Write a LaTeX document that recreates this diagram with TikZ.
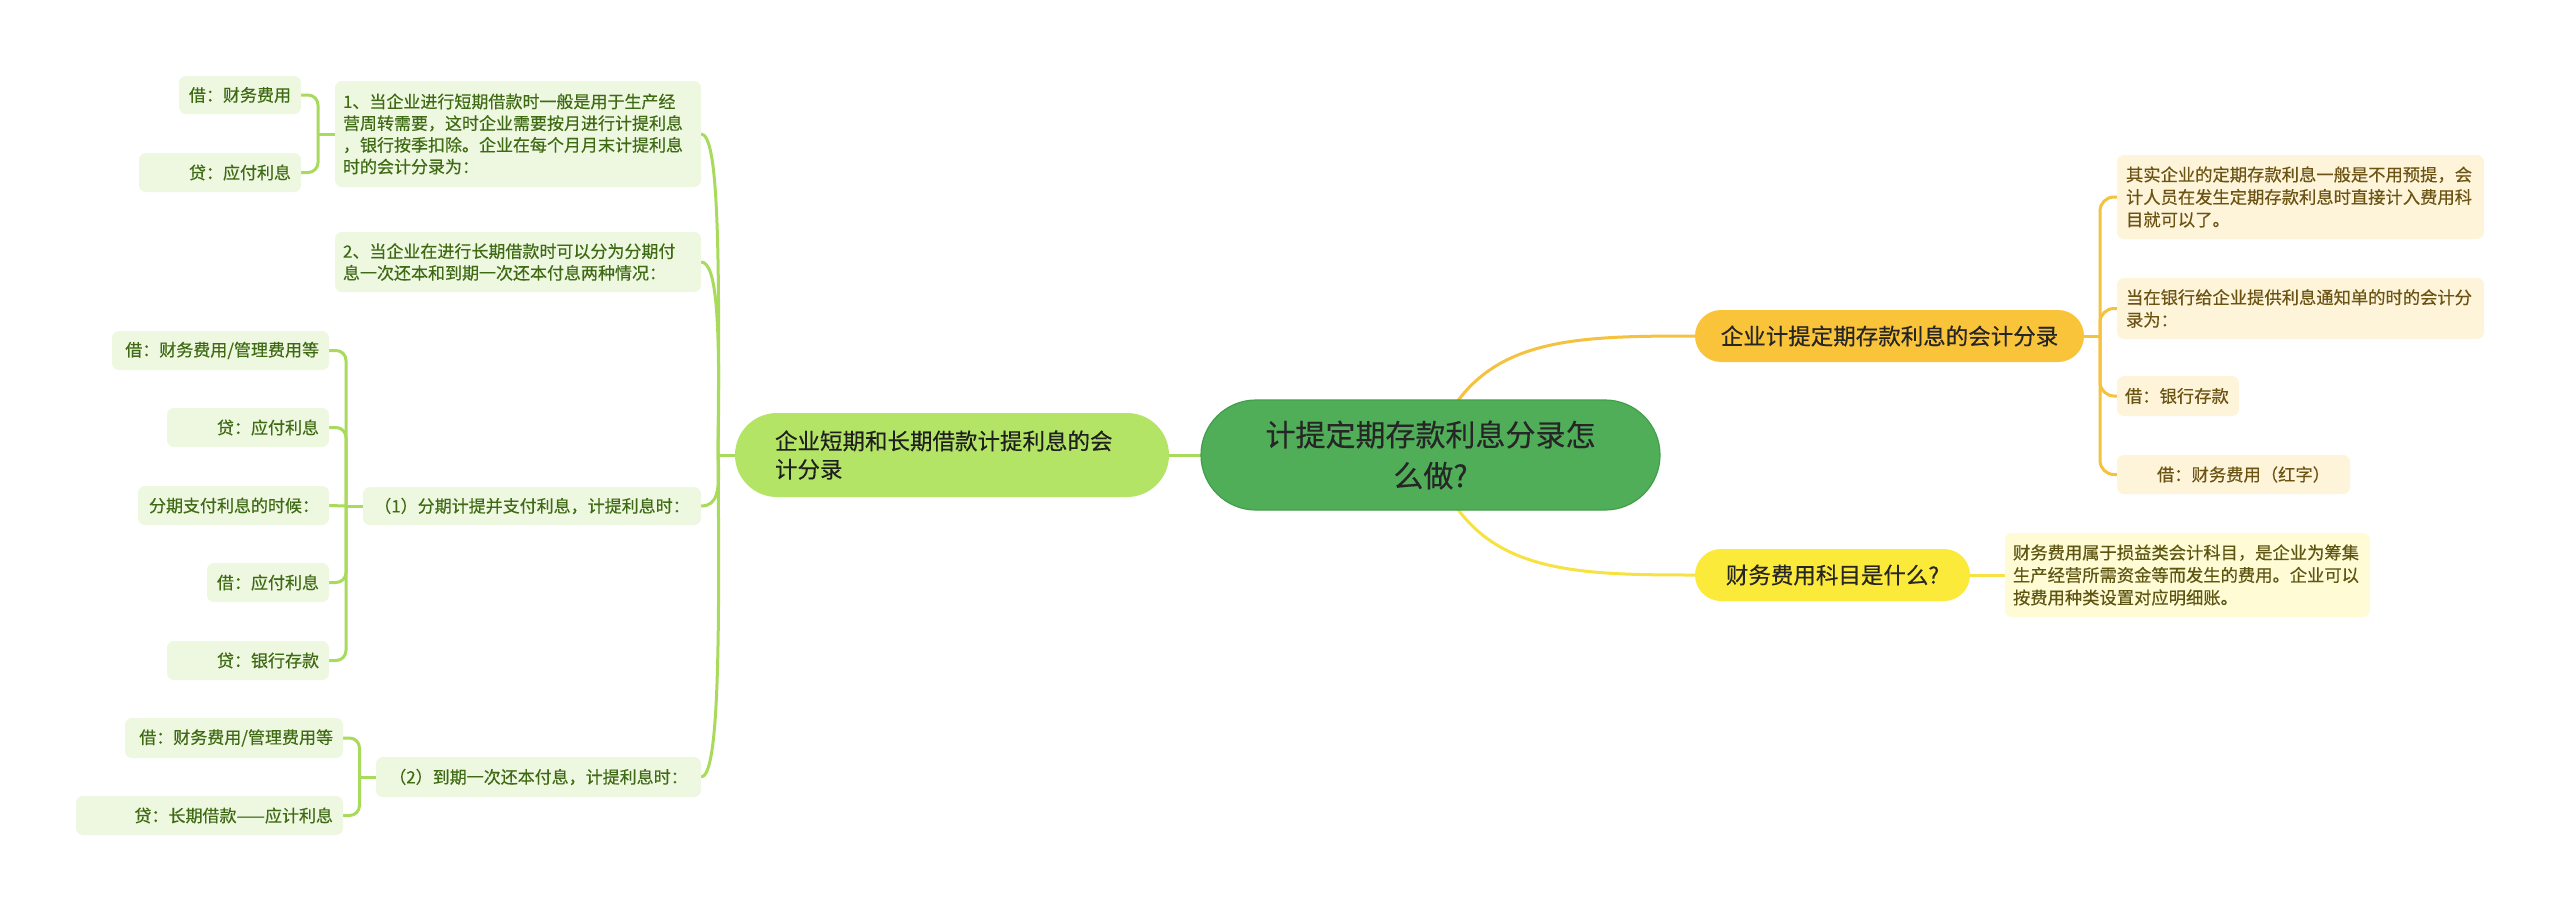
\documentclass[tikz,border=0pt]{standalone}
\usepackage{fontspec}
\setmainfont{Noto Sans CJK SC}[FakeBold=0.35]
\usetikzlibrary{backgrounds}
\definecolor{rootfill}{HTML}{50AE59}
\definecolor{rootdraw}{HTML}{419F4A}
\definecolor{roottext}{HTML}{262626}
\definecolor{lmfill}{HTML}{B4E465}
\definecolor{lmline}{HTML}{A8DB5C}
\definecolor{lcfill}{HTML}{EEF8E0}
\definecolor{lctext}{HTML}{3F6A14}
\definecolor{ronefill}{HTML}{F9C33A}
\definecolor{roneline}{HTML}{F4C23F}
\definecolor{rcfill}{HTML}{FEF4D9}
\definecolor{rctext}{HTML}{6B5313}
\definecolor{rtwofill}{HTML}{FCEA3B}
\definecolor{rtwoline}{HTML}{F6E240}
\definecolor{rtcfill}{HTML}{FFFBD4}
\definecolor{rtctext}{HTML}{5E5512}
\tikzset{
  box/.style={inner ysep=0pt, outer sep=0pt, rounded corners=7pt},
  lc/.style={box, fill=lcfill, text=lctext, font=\fontsize{17}{21.7}\selectfont},
  rc/.style={box, fill=rcfill, text=rctext, font=\fontsize{17.3}{22.5}\selectfont},
  rtc/.style={box, fill=rtcfill, text=rtctext, font=\fontsize{17.3}{22.5}\selectfont},
  mainnode/.style={inner ysep=0pt, outer sep=0pt, font=\fontsize{22.5}{28.3}\selectfont},
  lconn/.style={draw=lmline, line width=3pt, rounded corners=10pt},
  ronec/.style={draw=roneline, line width=3pt, rounded corners=14pt},
  rtwoc/.style={draw=rtwoline, line width=3pt},
}
\begin{document}
\begin{tikzpicture}[x=1pt,y=-1pt]
\useasboundingbox (0,0) rectangle (2560,911);

% central
\node[inner ysep=0pt, outer sep=0pt, fill=rootfill, draw=rootdraw, line width=1.2pt, rounded corners=55pt,
      minimum width=459pt, minimum height=110pt, text width=380pt, align=center, text=roottext,
      font=\fontsize{30}{41}\selectfont] (root) at (1430.5,455) {计提定期存款利息分录怎\\么做?};

% main branches
\node[mainnode, fill=lmfill, rounded corners=42pt, minimum width=434pt, minimum height=84pt,
      inner xsep=40pt, text width=354pt, align=left, text=black!88] (lm) at (952,455)
      {企业短期和长期借款计提利息的会\\计分录};
\node[mainnode, fill=ronefill, rounded corners=26pt, minimum width=389pt, minimum height=52pt,
      align=center, text=black!85] (r1) at (1889.5,336) {企业计提定期存款利息的会计分录};
\node[mainnode, fill=rtwofill, rounded corners=26pt, minimum width=275pt, minimum height=52pt,
      align=center, text=black!85] (r2) at (1832.5,575) {财务费用科目是什么?};

% right children
\node[rc, minimum width=367pt, minimum height=84pt, inner xsep=9pt, text width=349pt, align=left]
  (rc1) at (2300.5,197) {其实企业的定期存款利息一般是不用预提，会\\计人员在发生定期存款利息时直接计入费用科\\目就可以了。};
\node[rc, minimum width=367pt, minimum height=61pt, inner xsep=9pt, text width=349pt, align=left]
  (rc2) at (2300.5,308.5) {当在银行给企业提供利息通知单的时的会计分\\录为：};
\node[rc, minimum width=122pt, minimum height=40pt, inner xsep=8pt, text width=106pt, align=left]
  (rc3) at (2178,396) {借：银行存款};
\node[rc, minimum width=233pt, minimum height=39pt, inner xsep=20pt, text width=193pt, align=right]
  (rc4) at (2233.5,474.5) {借：财务费用（红字）};
\node[rtc, minimum width=365pt, minimum height=84pt, inner xsep=8pt, text width=349pt, align=left]
  (r2c) at (2187.5,575) {财务费用属于损益类会计科目，是企业为筹集\\生产经营所需资金等而发生的费用。企业可以\\按费用种类设置对应明细账。};

% left level 2
\node[lc, minimum width=366pt, minimum height=106pt, inner xsep=8pt, text width=350pt, align=left]
  (l1) at (518,134) {1、当企业进行短期借款时一般是用于生产经\\营周转需要，这时企业需要按月进行计提利息\\，银行按季扣除。企业在每个月月末计提利息\\时的会计分录为：};
\node[lc, minimum width=366pt, minimum height=60pt, inner xsep=8pt, text width=350pt, align=left]
  (l2) at (518,262) {2、当企业在进行长期借款时可以分为分期付\\息一次还本和到期一次还本付息两种情况：};
\node[lc, minimum width=338pt, minimum height=38pt, inner xsep=10pt, text width=318pt, align=center]
  (p1) at (532,506) {（1）分期计提并支付利息，计提利息时：};
\node[lc, minimum width=325pt, minimum height=40pt, inner xsep=10pt, text width=305pt, align=center]
  (p2) at (538.5,777) {（2）到期一次还本付息，计提利息时：};

% left level 3
\node[lc, minimum width=122pt, minimum height=38pt, inner xsep=10pt, text width=102pt, align=right]
  (L1a) at (240,95) {借：财务费用};
\node[lc, minimum width=162pt, minimum height=39pt, inner xsep=10pt, text width=142pt, align=right]
  (L1b) at (220,172.5) {贷：应付利息};
\node[lc, minimum width=217pt, minimum height=39pt, inner xsep=10pt, text width=197pt, align=right]
  (P1a) at (220.5,350.5) {借：财务费用/管理费用等};
\node[lc, minimum width=162pt, minimum height=39pt, inner xsep=10pt, text width=142pt, align=right]
  (P1b) at (248,427.5) {贷：应付利息};
\node[lc, minimum width=191pt, minimum height=39pt, inner xsep=10pt, text width=171pt, align=right]
  (P1c) at (233.5,505.5) {分期支付利息的时候：};
\node[lc, minimum width=122pt, minimum height=39pt, inner xsep=10pt, text width=102pt, align=right]
  (P1d) at (268,582.5) {借：应付利息};
\node[lc, minimum width=162pt, minimum height=39pt, inner xsep=10pt, text width=142pt, align=right]
  (P1e) at (248,660.5) {贷：银行存款};
\node[lc, minimum width=218pt, minimum height=40pt, inner xsep=10pt, text width=198pt, align=right]
  (P2a) at (234,738) {借：财务费用/管理费用等};
\node[lc, minimum width=267pt, minimum height=39pt, inner xsep=10pt, text width=247pt, align=right]
  (P2b) at (209.5,815.5) {贷：长期借款——应计利息};

\coordinate (lsp) at (718,455);
\coordinate (rsp) at (2100,336);
\coordinate (s1) at (318,134);
\coordinate (sp1) at (346,506);
\coordinate (sp2) at (359.5,777);

\begin{scope}[on background layer]
  \fill[white] (0,0) rectangle (2560,911);
  % root to branches
  \draw[lconn] (lm.east) -- (root.west);
  \draw[ronec] (root.center) .. controls (1470,338) and (1560,336) .. (r1.west);
  \draw[rtwoc] (root.center) .. controls (1470,572) and (1560,575) .. (r2.west);
  % right 1 spine
  \draw[ronec] (r1.east) -- (rsp);
  \draw[ronec] (rsp) -- (2100,197) -- (rc1.west);
  \draw[ronec] (rsp) -- (2100,308.5) -- (rc2.west);
  \draw[ronec] (rsp) -- (2100,396) -- (rc3.west);
  \draw[ronec] (rsp) -- (2100,474.5) -- (rc4.west);
  % right 2
  \draw[rtwoc] (r2.east) -- (r2c.west);
  % left main spine
  \draw[lconn] (lm.west) -- (lsp);
  \draw[lconn] (lsp) .. controls (720,240) and (718,134) .. (l1.east);
  \draw[lconn] (lsp) .. controls (720,330) and (718,262) .. (l2.east);
  \draw[lconn] (lsp) .. controls (720,490) and (718,506) .. (p1.east);
  \draw[lconn] (lsp) .. controls (720,660) and (718,777) .. (p2.east);
  % brackets
  \draw[lconn] (l1.west) -- (s1);
  \draw[lconn] (s1) -- (318,95) -- (L1a.east);
  \draw[lconn] (s1) -- (318,172.5) -- (L1b.east);
  \draw[lconn] (p1.west) -- (sp1);
  \draw[lconn] (sp1) -- (346,350.5) -- (P1a.east);
  \draw[lconn] (sp1) -- (346,427.5) -- (P1b.east);
  \draw[lconn] (sp1) -- (P1c.east);
  \draw[lconn] (sp1) -- (346,582.5) -- (P1d.east);
  \draw[lconn] (sp1) -- (346,660.5) -- (P1e.east);
  \draw[lconn] (p2.west) -- (sp2);
  \draw[lconn] (sp2) -- (359.5,738) -- (P2a.east);
  \draw[lconn] (sp2) -- (359.5,815.5) -- (P2b.east);
\end{scope}
\end{tikzpicture}
\end{document}
